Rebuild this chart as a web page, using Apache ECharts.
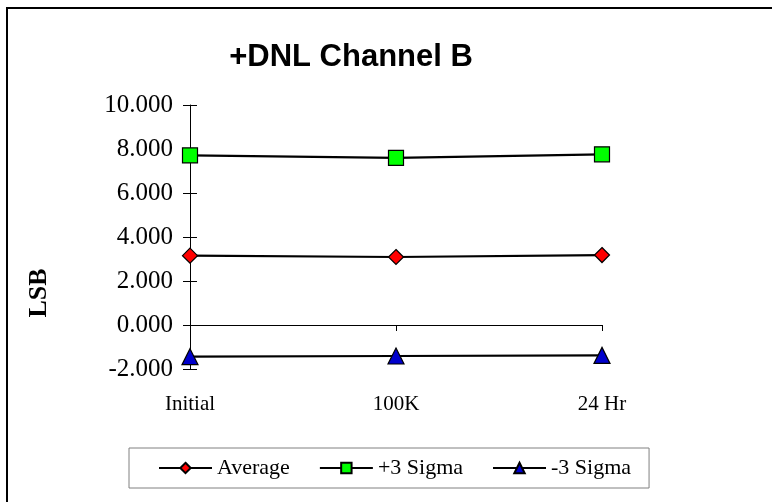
<!DOCTYPE html>
<html>
<head>
<meta charset="utf-8">
<script src="https://cdn.jsdelivr.net/npm/echarts@6/dist/echarts.min.js"></script>
<style>
  html, body { margin: 0; padding: 0; background: #fff; }
  #chart { width: 772px; height: 502px; }
</style>
</head>
<body>
<div id="chart"></div>
<script>
  const categories = ["Initial", "100K", "24 Hr"]
  const average = [3.15, 3.09, 3.18]
  const plus3Sigma = [7.71, 7.60, 7.76]
  const minus3Sigma = [-1.44, -1.41, -1.38]
  const yTicks = { min: -2, max: 10, interval: 2 }

  const serif = "'Liberation Serif', 'Times New Roman', serif"
  const sans = "'Liberation Sans', Arial, sans-serif"

  function lineSeries(name, data, symbol, size, color) {
    return {
      name: name,
      type: "line",
      data: data,
      symbol: symbol,
      symbolSize: size,
      lineStyle: { color: "#000", width: 2.2 },
      itemStyle: { color: color, borderColor: "#000", borderWidth: 1.2 },
      z: 5,
    }
  }

  const chart = echarts.init(document.getElementById("chart"), null, { renderer: "canvas" })
  chart.setOption({
    backgroundColor: "#fff",
    animation: false,
    title: {
      text: "+DNL Channel B",
      left: 346,
      top: 37,
      textAlign: "center",
      textStyle: { fontFamily: sans, fontSize: 31, fontWeight: "bold", color: "#000" },
    },
    grid: { left: 190, right: 170, top: 105, bottom: 133, containLabel: false },
    xAxis: [
      {
        type: "category",
        data: categories,
        boundaryGap: false,
        axisLine: { onZero: true, lineStyle: { color: "#000", width: 1 } },
        axisTick: { show: true, alignWithLabel: true, length: 6, lineStyle: { color: "#000" } },
        axisLabel: { show: false },
        splitLine: { show: false },
      },
      {
        type: "category",
        data: categories,
        boundaryGap: false,
        position: "bottom",
        axisLine: { show: false },
        axisTick: { show: false },
        axisLabel: { margin: 25, fontFamily: serif, fontSize: 21, color: "#000" },
      },
    ],
    yAxis: [
      {
        type: "value",
        min: yTicks.min,
        max: yTicks.max,
        interval: yTicks.interval,
        axisLine: { show: true, onZero: false, lineStyle: { color: "#000", width: 1 } },
        axisTick: { show: true, length: 7, lineStyle: { color: "#000" } },
        axisLabel: {
          margin: 17,
          fontFamily: serif,
          fontSize: 25,
          color: "#000",
          formatter: (v) => v.toFixed(3),
        },
        splitLine: { show: false },
      },
      {
        type: "value",
        min: yTicks.min,
        max: yTicks.max,
        interval: yTicks.interval,
        position: "left",
        axisLine: { show: false },
        axisTick: { show: true, inside: true, length: 7, lineStyle: { color: "#000" } },
        axisLabel: { show: false },
        splitLine: { show: false },
      },
    ],
    legend: {
      data: ["Average", "+3 Sigma", "-3 Sigma"],
      left: 129,
      top: 448,
      itemWidth: 53,
      itemHeight: 13,
      itemGap: 29,
      padding: [9, 18, 9, 29],
      borderColor: "#808080",
      borderWidth: 1,
      textStyle: { fontFamily: serif, fontSize: 22, color: "#000", padding: [0, 0, 0, 0] },
    },
    graphic: [
      {
        type: "rect",
        shape: { x: 7, y: 8, width: 800, height: 520 },
        style: { fill: "none", stroke: "#000", lineWidth: 2 },
        silent: true,
      },
      {
        type: "text",
        x: 39,
        y: 293,
        rotation: Math.PI / 2,
        style: {
          text: "LSB",
          font: "bold 26px " + serif,
          fill: "#000",
          textAlign: "center",
          textVerticalAlign: "middle",
        },
      },
    ],
    series: [
      lineSeries("Average", average, "diamond", 15, "#ff0000"),
      lineSeries("+3 Sigma", plus3Sigma, "rect", 15, "#00ff00"),
      lineSeries("-3 Sigma", minus3Sigma, "triangle", 16, "#0000cc"),
    ],
  })
</script>
</body>
</html>
